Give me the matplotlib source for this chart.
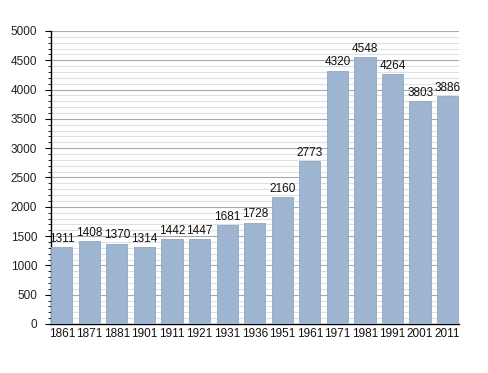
import matplotlib.pyplot as plt
from matplotlib.ticker import MultipleLocator

years = ['1861', '1871', '1881', '1901', '1911', '1921', '1931', '1936',
         '1951', '1961', '1971', '1981', '1991', '2001', '2011']
population = [1311, 1408, 1370, 1314, 1442, 1447, 1681, 1728,
              2160, 2773, 4320, 4548, 4264, 3803, 3886]

plt.rcParams['font.family'] = ['Liberation Sans', 'DejaVu Sans']

fig = plt.figure(figsize=(4.88, 3.73), dpi=100)
ax = fig.add_axes([0.1045, 0.1314, 0.836, 0.7855])

x = range(len(years))
bars = ax.bar(x, population, width=0.77, color='#9db5d1', edgecolor='#8ea7c4',
              linewidth=0.6, zorder=3)
for b, v in zip(bars, population):
    ax.text(b.get_x() + b.get_width() / 2, v + 40, str(v), ha='center', va='bottom',
            fontsize=8.5, color='#111111', zorder=4)

ax.set_xlim(-0.39, len(years) - 0.59)
ax.set_ylim(0, 5000)
ax.set_xticks(list(x))
ax.set_xticklabels(years)
ax.yaxis.set_major_locator(MultipleLocator(500))
ax.yaxis.set_minor_locator(MultipleLocator(100))
ax.tick_params(axis='x', length=0, labelsize=8.5, pad=3, labelcolor='#111111')
ax.tick_params(axis='y', which='major', length=4, labelsize=8.5, pad=6, labelcolor='#222222')
ax.tick_params(axis='y', which='minor', length=2)
ax.grid(axis='y', which='major', color='#aaaaaa', linewidth=0.8, zorder=0)
ax.grid(axis='y', which='minor', color='#e0e0e0', linewidth=0.8, zorder=0)
for s in ['top', 'right']:
    ax.spines[s].set_visible(False)
ax.spines['left'].set_linewidth(1.0)
ax.spines['bottom'].set_linewidth(1.0)

fig.savefig('out.png', dpi=100)
